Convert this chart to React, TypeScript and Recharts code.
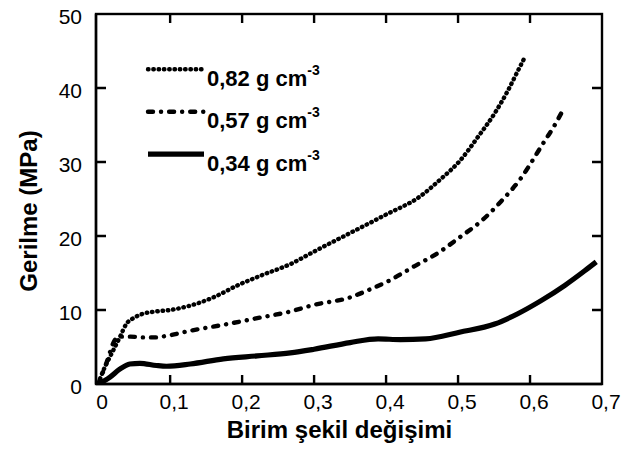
import { LineChart, Line, XAxis, YAxis, Legend } from 'recharts';

// strain (-) / stress (MPa)
const strain082 = [0, 0.008, 0.016, 0.03, 0.039, 0.049, 0.0625, 0.08, 0.1, 0.128, 0.16, 0.193, 0.23, 0.267, 0.3, 0.35, 0.4, 0.448, 0.476, 0.502, 0.527, 0.551, 0.569, 0.583, 0.593];
const stress082 = [0, 2.0, 3.6, 6.3, 8.1, 8.9, 9.5, 9.8, 10.0, 10.6, 11.7, 13.3, 14.8, 16.2, 17.9, 20.4, 22.9, 25.4, 27.7, 30.1, 33.3, 36.6, 39.6, 42.3, 44.2];

const strain057 = [0, 0.011, 0.023, 0.03, 0.045, 0.0625, 0.08, 0.095, 0.128, 0.174, 0.221, 0.267, 0.3, 0.35, 0.378, 0.403, 0.439, 0.472, 0.502, 0.532, 0.56, 0.588, 0.606, 0.62, 0.632, 0.644];
const stress057 = [0, 2.7, 5.9, 6.4, 6.4, 6.3, 6.3, 6.5, 7.2, 8.0, 8.9, 9.8, 10.7, 11.7, 12.8, 13.9, 15.9, 17.7, 19.8, 22.0, 24.7, 27.9, 30.6, 32.8, 34.6, 36.7];

const strain034 = [0, 0.016, 0.03, 0.044, 0.058, 0.081, 0.095, 0.128, 0.174, 0.221, 0.267, 0.3, 0.35, 0.389, 0.42, 0.455, 0.502, 0.551, 0.583, 0.616, 0.648, 0.676, 0.692];
const stress034 = [0, 0.9, 2.0, 2.7, 2.8, 2.5, 2.4, 2.7, 3.4, 3.8, 4.2, 4.7, 5.6, 6.1, 6.0, 6.1, 7.0, 8.1, 9.5, 11.3, 13.3, 15.3, 16.5];

const xTicks = [0, 0.1, 0.2, 0.3, 0.4, 0.5, 0.6, 0.7];
const xTickLabels = ['0', '0,1', '0,2', '0,3', '0,4', '0,5', '0,6', '0,7'];
const yTicks = [0, 10, 20, 30, 40, 50];

const X_DOMAIN: [number, number] = [-0.003, 0.7];
const Y_DOMAIN: [number, number] = [0, 50];

// plot box inside the 623x461 chart
const W = 623;
const H = 461;
const LEFT = 96;
const TOP = 14;
const RIGHT = 602;
const BOTTOM = 384;

const FONT = '"Liberation Sans", Arial, Helvetica, sans-serif';
const INK = '#000';
const FRAME_W = 2.4;

const toRows = (xs: number[], ys: number[]) => xs.map((x, i) => ({ x, y: ys[i] }));

const series = [
  { key: 'd082', label: '0,82', data: toRows(strain082, stress082), width: 4.4, dash: '0.5 4.8' },
  { key: 'd057', label: '0,57', data: toRows(strain057, stress057), width: 4.4, dash: '5 8 0.1 8' },
  { key: 'd034', label: '0,34', data: toRows(strain034, stress034), width: 5.2, dash: undefined },
];

const BottomTick = ({ x, y, payload }: any) => {
  const i = xTicks.indexOf(payload.value);
  return (
    <text x={x + 4} y={y + 25} textAnchor="middle" fontFamily={FONT} fontSize={21} fill={INK}>
      {i >= 0 ? xTickLabels[i] : payload.value}
    </text>
  );
};

const LeftTick = ({ x, y, payload }: any) => (
  <text x={x - 14} y={y + 10} textAnchor="end" fontFamily={FONT} fontSize={21} fill={INK}>
    {payload.value}
  </text>
);

const XAxisTitle = ({ viewBox }: any) => (
  <text
    x={viewBox.x + viewBox.width / 2 - 9.5}
    y={viewBox.y + 54}
    textAnchor="middle"
    fontFamily={FONT}
    fontSize={24}
    fontWeight="bold"
    fill={INK}
  >
    Birim şekil değişimi
  </text>
);

const YAxisTitle = ({ viewBox }: any) => {
  const cx = 37;
  const cy = viewBox.y + viewBox.height / 2 + 12;
  return (
    <text
      x={cx}
      y={cy}
      transform={`rotate(-90, ${cx}, ${cy})`}
      textAnchor="middle"
      fontFamily={FONT}
      fontSize={24}
      fontWeight="bold"
      fill={INK}
    >
      Gerilme (MPa)
    </text>
  );
};

// legend overlay; it also carries the box frame with inward ticks on all four sides
const renderLegend = () => {
  const px = (v: number) => LEFT + ((v - X_DOMAIN[0]) / (X_DOMAIN[1] - X_DOMAIN[0])) * (RIGHT - LEFT);
  const py = (v: number) => BOTTOM - ((v - Y_DOMAIN[0]) / (Y_DOMAIN[1] - Y_DOMAIN[0])) * (BOTTOM - TOP);
  let ticks = '';
  xTicks.slice(1, -1).forEach((v) => {
    ticks += `M${px(v)},${TOP}v9M${px(v)},${BOTTOM}v-9`;
  });
  yTicks.slice(1, -1).forEach((v) => {
    ticks += `M${LEFT},${py(v)}h10M${RIGHT},${py(v)}h-10`;
  });
  return (
    <svg width={W} height={H} style={{ display: 'block' }}>
      <rect
        x={LEFT}
        y={TOP}
        width={RIGHT - LEFT}
        height={BOTTOM - TOP}
        fill="none"
        stroke={INK}
        strokeWidth={FRAME_W}
      />
      <path d={ticks} fill="none" stroke={INK} strokeWidth={FRAME_W} />
      {series.map((s, i) => {
        const ly = 69.3 + 42.4 * i;
        return (
          <g key={s.key}>
            <line
              x1={148}
              y1={ly}
              x2={204}
              y2={ly}
              stroke={INK}
              strokeWidth={s.width}
              strokeDasharray={s.dash}
              strokeLinecap={s.dash ? 'round' : 'butt'}
            />
            <text x={207} y={ly + 16.5} fontFamily={FONT} fontSize={22} fontWeight="bold" fill={INK}>
              {s.label} g cm
              <tspan fontSize={14} dy={-11}>-3</tspan>
            </text>
          </g>
        );
      })}
    </svg>
  );
};

export default function App() {
  return (
    <div style={{ position: 'absolute', left: 0, top: 0, background: '#fff' }}>
      <LineChart width={W} height={H} margin={{ top: TOP, right: W - RIGHT, left: 0, bottom: 0 }}>
        <XAxis
          dataKey="x"
          type="number"
          domain={X_DOMAIN}
          ticks={xTicks}
          interval={0}
          allowDataOverflow
          height={H - BOTTOM}
          tickSize={0}
          tickMargin={0}
          tickLine={false}
          tick={BottomTick}
          axisLine={{ stroke: INK, strokeWidth: FRAME_W }}
          label={XAxisTitle}
        />
        <YAxis
          type="number"
          domain={Y_DOMAIN}
          ticks={yTicks}
          interval={0}
          allowDataOverflow
          width={LEFT}
          tickSize={0}
          tickMargin={0}
          tickLine={false}
          tick={LeftTick}
          axisLine={{ stroke: INK, strokeWidth: FRAME_W }}
          label={YAxisTitle}
        />
        <Legend
          layout="horizontal"
          verticalAlign="middle"
          align="center"
          content={renderLegend}
          wrapperStyle={{ position: 'absolute', left: 0, top: 0, width: W, height: H, pointerEvents: 'none' }}
        />
        {series.map((s) => (
          <Line
            key={s.key}
            data={s.data}
            dataKey="y"
            name={s.label}
            type="monotone"
            stroke={INK}
            strokeWidth={s.width}
            strokeDasharray={s.dash}
            strokeLinecap={s.dash ? 'round' : 'butt'}
            dot={false}
            activeDot={false}
            isAnimationActive={false}
          />
        ))}
      </LineChart>
    </div>
  );
}
